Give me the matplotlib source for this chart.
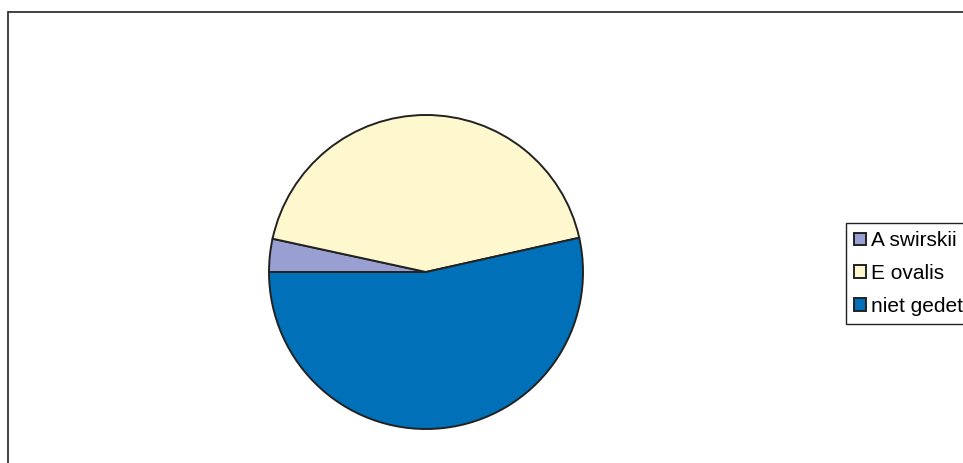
import matplotlib.pyplot as plt
from matplotlib.patches import Rectangle

labels = ["A swirskii", "E ovalis", "niet gedet"]
shares = [3.4, 43.1, 53.5]
colors = ["#9a9fd2", "#fff8cf", "#0070b9"]

W, H = 963, 463
fig = plt.figure(figsize=(W / 100, H / 100), dpi=100)
ax = fig.add_axes([0, 0, 1, 1])
ax.set_xlim(0, W)
ax.set_ylim(0, H)
ax.set_aspect("equal")
ax.axis("off")

# chart area border (runs off the right and bottom)
ax.add_patch(Rectangle((8, -20), W + 20, H - 12 + 20, fill=False,
                       edgecolor="#333333", linewidth=1.3))

wedges, _ = ax.pie(shares, colors=colors, startangle=180, counterclock=False,
                   center=(426, H - 272), radius=157,
                   wedgeprops=dict(edgecolor="#222222", linewidth=1.4))
ax.set_xlim(0, W)
ax.set_ylim(0, H)

leg = fig.legend(wedges, labels, loc="upper left",
                 bbox_to_anchor=(846 / W, 1 - 223 / H), borderaxespad=0,
                 prop={"family": "Liberation Sans", "size": 15},
                 fancybox=False, edgecolor="#222222", framealpha=1,
                 handlelength=0.55, handleheight=0.55, handletextpad=0.25,
                 labelspacing=0.66, borderpad=0.4)
leg.get_frame().set_linewidth(1.0)

fig.savefig("out.png", dpi=100)
